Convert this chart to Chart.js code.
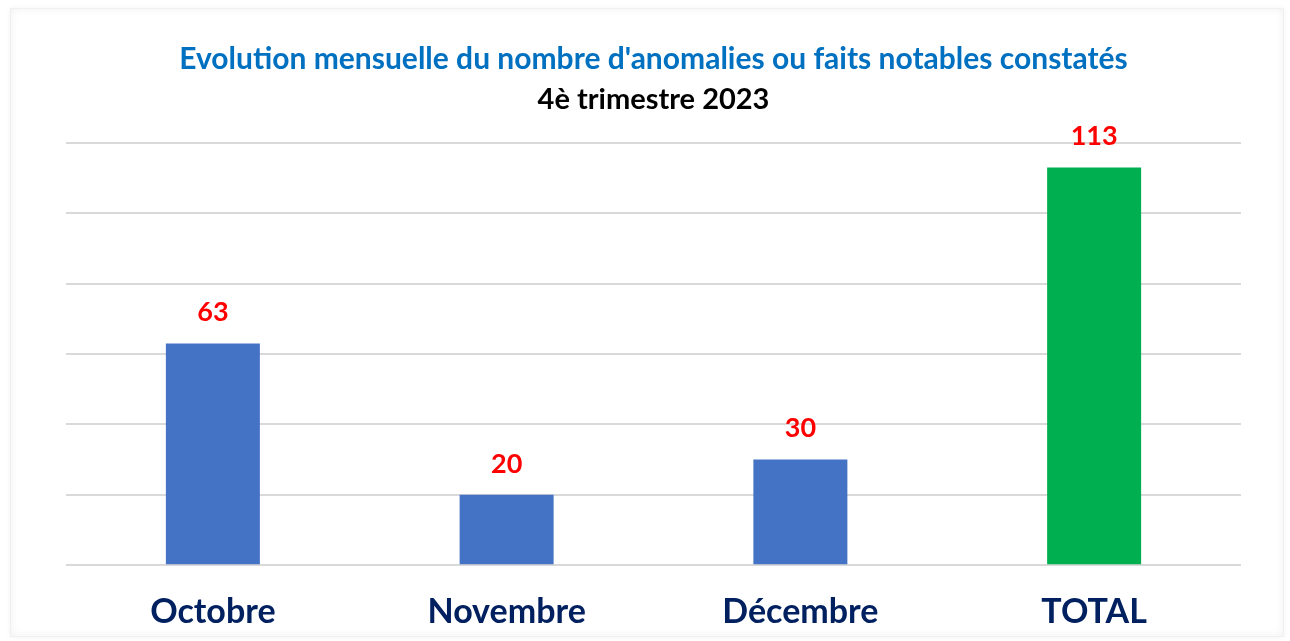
<!DOCTYPE html>
<html>
<head>
<meta charset="utf-8">
<script src="https://cdn.jsdelivr.net/npm/chart.js@4/dist/chart.umd.min.js"></script>
<style>
  html, body { margin: 0; padding: 0; background: #ffffff; }
  #wrap { position: relative; width: 1290px; height: 641px; }
  #frame {
    position: absolute; left: 10px; top: 8px; right: 6px; bottom: 4px;
    border: 1px solid #f0f0f0;
    box-shadow: inset 0 0 8px rgba(0, 0, 0, 0.06), 0 0 6px rgba(0, 0, 0, 0.05);
    pointer-events: none;
  }
  canvas { position: absolute; left: 0; top: 0; }
</style>
</head>
<body>
<div id="wrap">
  <canvas id="myChart" width="1290" height="641"></canvas>
  <div id="frame"></div>
</div>
<script>
var months = ['Octobre', 'Novembre', 'Décembre', 'TOTAL'];
var counts = [63, 20, 30, 113];
var barColors = ['#4472C4', '#4472C4', '#4472C4', '#00B050'];

var FONT = 'Lato, Carlito, Calibri, sans-serif';

// Red value printed above each bar
var valueLabels = {
  id: 'valueLabels',
  afterDatasetsDraw: function(chart) {
    var ctx = chart.ctx;
    var meta = chart.getDatasetMeta(0);
    ctx.save();
    ctx.font = 'bold 27px ' + FONT;
    ctx.fillStyle = '#FF0000';
    ctx.textAlign = 'center';
    ctx.textBaseline = 'middle';
    meta.data.forEach(function(bar, i) {
      ctx.fillText(String(chart.data.datasets[0].data[i]), bar.x, bar.y - 31);
    });
    ctx.restore();
  }
};

var chart = new Chart(document.getElementById('myChart'), {
  type: 'bar',
  data: {
    labels: months,
    datasets: [{
      data: counts,
      backgroundColor: barColors,
      borderWidth: 0,
      barPercentage: 0.32,
      categoryPercentage: 1
    }]
  },
  options: {
    responsive: false,
    animation: false,
    events: [],
    layout: {
      padding: { left: 66, right: 49, top: 0, bottom: -17 }
    },
    scales: {
      x: {
        grid: { display: false, drawTicks: false },
        border: { display: false },
        ticks: {
          padding: 26,
          color: '#002060',
          font: { family: FONT, size: 34, weight: 'bold', lineHeight: 1.2 }
        }
      },
      y: {
        min: 0,
        max: 120,
        ticks: { display: false, stepSize: 20 },
        grid: { color: '#d9d9d9', lineWidth: 2, drawTicks: false },
        border: { display: false }
      }
    },
    plugins: {
      legend: { display: false },
      tooltip: { enabled: false },
      title: {
        display: true,
        text: "Evolution mensuelle du nombre d'anomalies ou faits notables constatés",
        color: '#0070C0',
        font: { family: FONT, size: 30, weight: 'bold', lineHeight: 1.2 },
        padding: { top: 41, bottom: 4 }
      },
      subtitle: {
        display: true,
        text: '4è trimestre 2023',
        color: '#000000',
        font: { family: FONT, size: 29, weight: 'bold', lineHeight: 1.2 },
        padding: { top: 1, bottom: 26 }
      }
    }
  },
  plugins: [valueLabels]
});
</script>
</body>
</html>
